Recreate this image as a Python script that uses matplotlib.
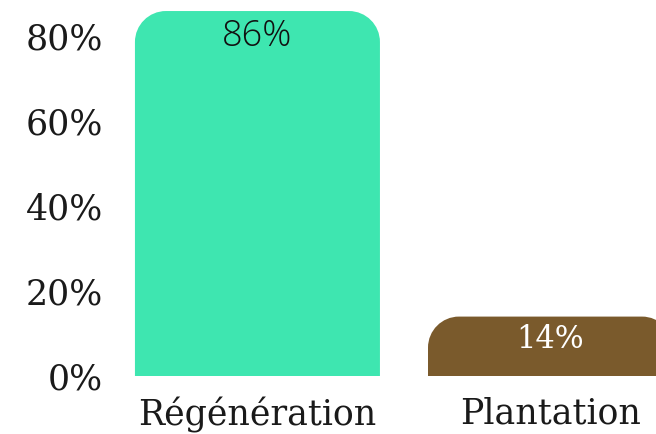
import matplotlib
matplotlib.use("Agg")
import matplotlib.pyplot as plt
from matplotlib.path import Path
from matplotlib.patches import PathPatch
from matplotlib.ticker import FuncFormatter

categories = ["Régénération", "Plantation"]
values = [86, 14]
labels = ["86%", "14%"]
colors = ["#3ee6b0", "#7a5a2c"]
label_colors = ["#111111", "#ffffff"]
label_fonts = ["Open Sans", "DejaVu Serif"]
label_sizes = [26, 22]
yticks = [0, 20, 40, 60, 80]

W, H = 656, 434
fig = plt.figure(figsize=(W / 100, H / 100), dpi=100)
ax = fig.add_axes([120 / W, 58 / H, 1 - 120 / W, 1 - 58 / H])

x = list(range(len(categories)))
bars = ax.bar(x, values, width=0.836, color=colors)
ax.set_xlim(-0.469, 1.36)
ax.set_ylim(0, 88.6)

# convert a pixel radius into data units
bbox = ax.get_window_extent()
px_per_x = bbox.width / (ax.get_xlim()[1] - ax.get_xlim()[0])
px_per_y = bbox.height / (ax.get_ylim()[1] - ax.get_ylim()[0])
r_px = 31
k = 0.5523
for b, c in zip(bars, colors):
    x0, y0 = b.get_x(), b.get_y()
    w, h = b.get_width(), b.get_height()
    rx = r_px / px_per_x
    ry = min(r_px / px_per_y, h)
    x1, y1 = x0 + w, y0 + h
    verts = [
        (x0, y0), (x0, y1 - ry),
        (x0, y1 - ry + k * ry), (x0 + rx - k * rx, y1), (x0 + rx, y1),
        (x1 - rx, y1),
        (x1 - rx + k * rx, y1), (x1, y1 - ry + k * ry), (x1, y1 - ry),
        (x1, y0), (x0, y0),
    ]
    codes = [Path.MOVETO, Path.LINETO,
             Path.CURVE4, Path.CURVE4, Path.CURVE4,
             Path.LINETO,
             Path.CURVE4, Path.CURVE4, Path.CURVE4,
             Path.LINETO, Path.CLOSEPOLY]
    ax.add_patch(PathPatch(Path(verts, codes), facecolor=c, edgecolor="none", clip_on=False))
    b.set_visible(False)

for xi, v, lab, lc, lf, ls in zip(x, values, labels, label_colors, label_fonts, label_sizes):
    ax.annotate(lab, (xi, v), xytext=(0, -5), textcoords="offset points",
                ha="center", va="top", fontsize=ls, color=lc, family=lf,
                fontweight="light")

ax.set_yticks(yticks)
ax.yaxis.set_major_formatter(FuncFormatter(lambda v, p: f"{v:.0f}%"))
ax.set_xticks(x)
ax.set_xticklabels(categories)
for lbl in ax.get_xticklabels() + ax.get_yticklabels():
    lbl.set_family("DejaVu Serif")
    lbl.set_fontsize(25)
    lbl.set_color("#1a1a1a")
ax.tick_params(axis="y", length=0, pad=12)
ax.tick_params(axis="x", length=0, pad=15)
for s in ax.spines.values():
    s.set_visible(False)

fig.savefig("out.png", dpi=100)
